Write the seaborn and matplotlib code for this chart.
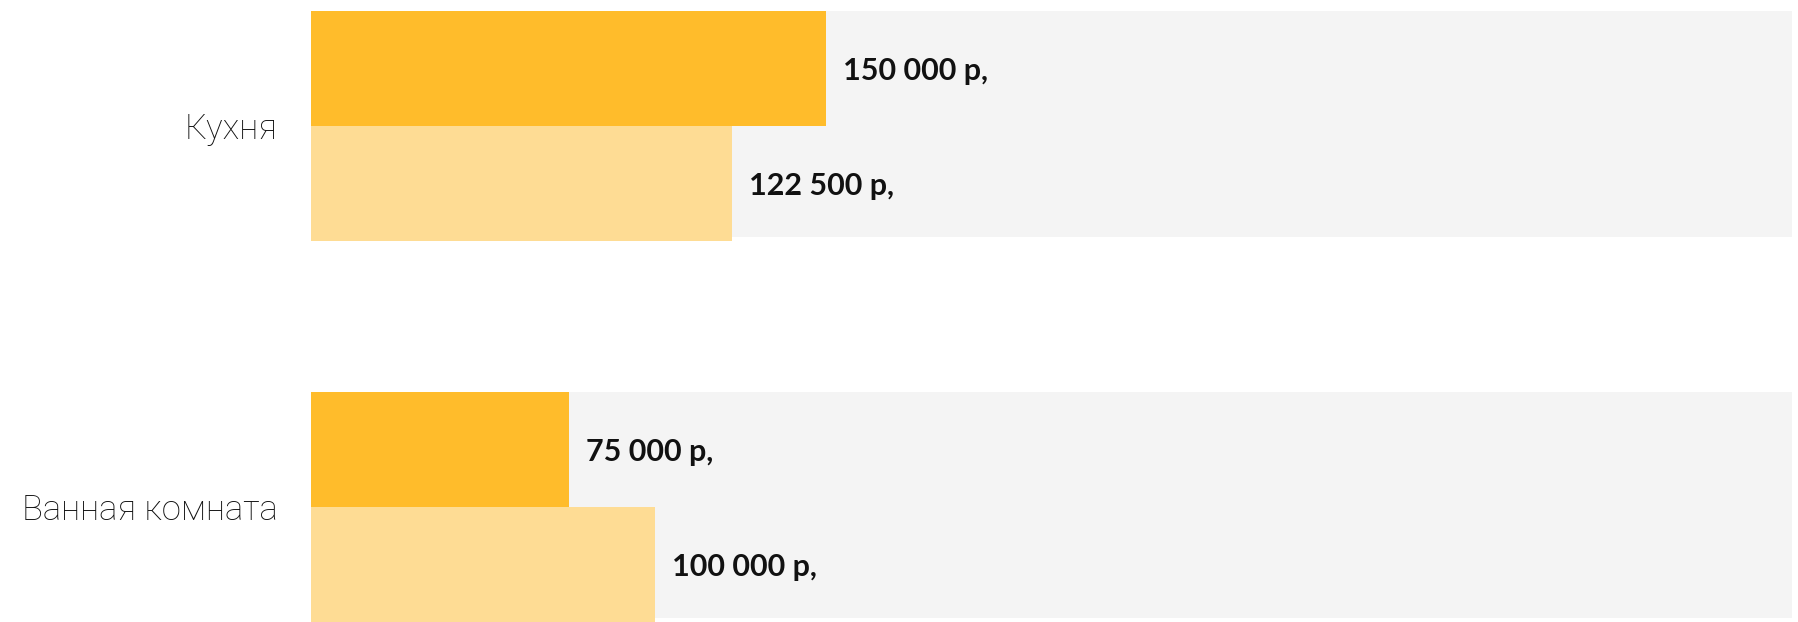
import matplotlib
matplotlib.use("Agg")
import matplotlib.pyplot as plt
import seaborn as sns
import pandas as pd

categories = ["Кухня", "Ванная комната"]
series_names = ["Вариант 1", "Вариант 2"]
values_1 = [150000, 75000]
values_2 = [122500, 100000]
track_max = [431000, 431000]

colors = ["#FFBC2B", "#FEDC94"]
track_color = "#F4F4F4"

df = pd.DataFrame({
    "category": categories * 2,
    "series": [series_names[0]] * len(categories) + [series_names[1]] * len(categories),
    "value": values_1 + values_2,
})
track = pd.DataFrame({"category": categories, "value": track_max})

sns.set_theme(style="white")
plt.rcParams["font.family"] = ["Lato", "Roboto", "DejaVu Sans"]

W, H = 1799, 622
fig = plt.figure(figsize=(W / 100, H / 100), dpi=100)
ax = fig.add_axes([311 / W, 0, (1792 - 311) / W, 1])

sns.barplot(data=track, y="category", x="value", color=track_color,
            width=0.595, orient="h", ax=ax, saturation=1, zorder=1)
sns.barplot(data=df, y="category", x="value", hue="series", hue_order=series_names,
            palette=colors, width=0.605, orient="h", ax=ax, saturation=1,
            legend=False, dodge=True)

for p in ax.patches[:len(categories)]:
    p.set_y(p.get_y() - (0.605 - 0.595) / 2)
    p.set_linewidth(0)

for cont in ax.containers[1:]:
    for bar in cont:
        bar.set_linewidth(0)
        v = bar.get_width()
        label = f"{int(v):,}".replace(",", " ") + " р,"
        ax.annotate(label, (v, bar.get_y() + bar.get_height() / 2),
                    xytext=(17, 0), textcoords="offset pixels",
                    ha="left", va="center_baseline", fontsize=22, fontweight="bold",
                    color="#111111")

ax.set_xlim(0, track_max[0])
ax.set_ylim(1.302, -0.331)
ax.set_xlabel("")
ax.set_ylabel("")
ax.set_xticks([])
ax.tick_params(axis="y", length=0, pad=23.8)
for lab in ax.get_yticklabels():
    lab.set_fontsize(25)
    lab.set_family(["Roboto", "DejaVu Sans"])
    lab.set_fontweight("light")
    lab.set_color("#111111")
sns.despine(ax=ax, left=True, bottom=True, top=True, right=True)

fig.savefig("out.png", dpi=100)
